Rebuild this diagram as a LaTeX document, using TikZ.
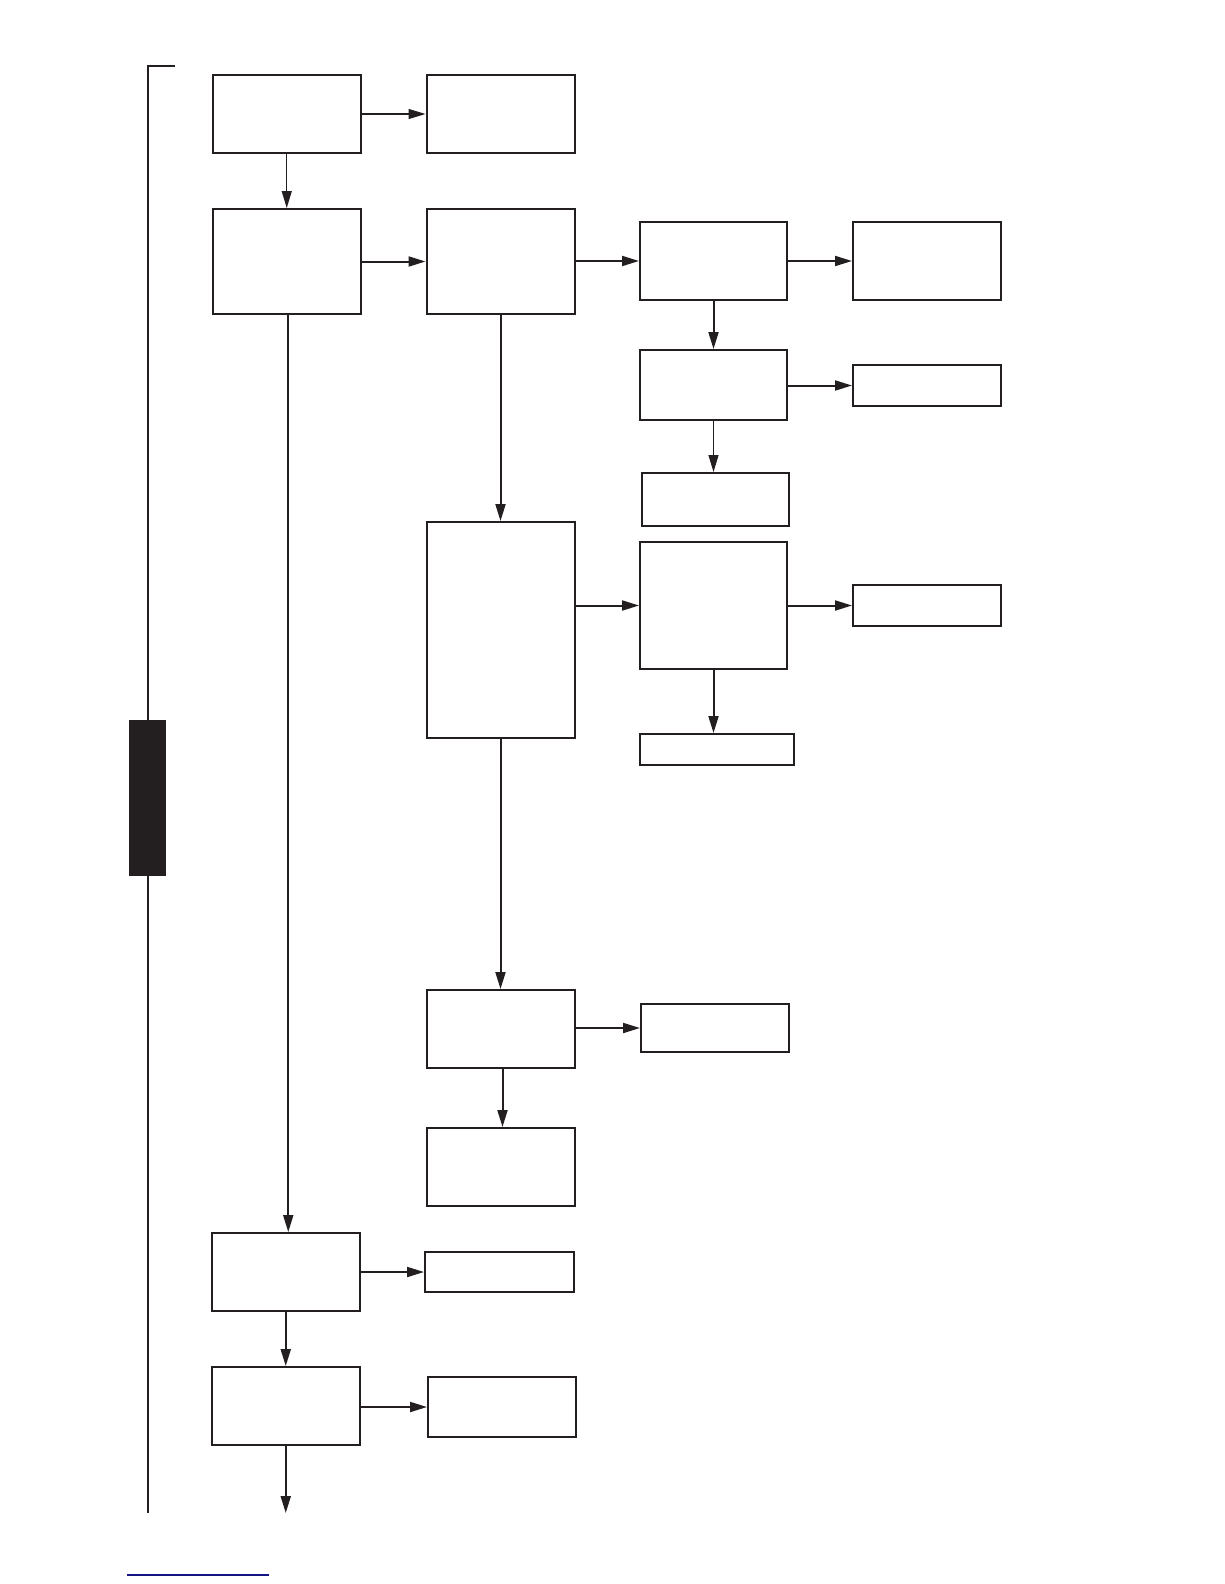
\documentclass[tikz,border=0pt]{standalone}
\usetikzlibrary{arrows.meta}
\definecolor{ink}{HTML}{231F20}
\definecolor{rulecol}{RGB}{20,20,130}
\begin{document}
\begin{tikzpicture}[x=1pt,y=-1pt,
  box/.style={draw=ink, line width=2pt, inner sep=0pt, minimum width=148pt},
  conn/.style={draw=ink, line width=2pt, -{Triangle[length=17pt,width=10pt]}},
  thinconn/.style={draw=ink, line width=1.2pt, -{Triangle[length=17pt,width=10pt]}}]
\useasboundingbox (0,0) rectangle (1224,1584);
% side bracket
\coordinate (brtop) at (175,66);
\coordinate (brcorner) at (148,66);
\coordinate (brbot) at (148,1513);
\draw[ink, line width=2pt] (brtop) -- (brcorner) -- (brbot);
\fill[ink] (129.3,720) rectangle (165.7,875.7);
% boxes
\node[box, minimum height=78pt] (A) at (286.75,114) {};
\node[box, minimum height=78pt] (B) at (500.5,114) {};
\node[box, minimum height=105pt] (C) at (286.75,261.5) {};
\node[box, minimum height=105pt] (D) at (500.5,261.5) {};
\node[box, minimum width=147pt, minimum height=78pt] (E) at (713.5,261) {};
\node[box, minimum height=78pt] (E2) at (927,261) {};
\node[box, minimum width=147pt, minimum height=70pt] (F) at (713.5,385) {};
\node[box, minimum height=41pt] (F2) at (927,385.5) {};
\node[box, minimum width=147pt, minimum height=53pt] (F3) at (715.5,499.5) {};
\node[box, minimum height=216pt] (Big) at (500.5,630) {};
\node[box, minimum width=147pt, minimum height=127pt] (G) at (713.5,605.5) {};
\node[box, minimum height=41pt] (G2) at (927,605.5) {};
\node[box, minimum width=154pt, minimum height=31pt] (G3) at (717,749.5) {};
\node[box, minimum height=78pt] (H) at (500.5,1029) {};
\node[box, minimum height=48pt] (H2) at (715,1028) {};
\node[box, minimum height=78pt] (I) at (500.5,1167) {};
\node[box, minimum width=147.5pt, minimum height=78pt] (K) at (285.75,1272) {};
\node[box, minimum width=148.5pt, minimum height=40pt] (J) at (499.25,1272) {};
\node[box, minimum width=147.5pt, minimum height=78pt] (M) at (285.75,1406) {};
\node[box, minimum height=60pt] (L) at (502,1407) {};
\coordinate (Mout) at (285.75,1513);
% connectors
\draw[thinconn] (A.east) -- (B.west);
\draw[thinconn] (A.south) -- (C.north);
\draw[conn] (C.east) -- (D.west);
\draw[conn] (D.east |- E.west) -- (E.west);
\draw[conn] (E.east) -- (E2.west);
\draw[conn] (E.south) -- (F.north);
\draw[conn] (F.east |- F2.west) -- (F2.west);
\draw[thinconn] (F.south) -- (F.south |- F3.north);
\draw[conn] (C.south) ++(1.5,0) coordinate (Cs) -- (Cs |- K.north);
\draw[conn] (D.south) -- (Big.north);
\draw[conn] (Big.east |- G.west) -- (G.west);
\draw[conn] (G.east) -- (G2.west);
\draw[conn] (G.south) -- (G.south |- G3.north);
\draw[conn] (Big.south) -- (H.north);
\draw[conn] (H.east |- H2.west) -- (H2.west);
\draw[conn] (H.south) ++(2,0) coordinate (Hs) -- (Hs |- I.north);
\draw[conn] (K.east) -- (J.west);
\draw[conn] (K.south) -- (M.north);
\draw[conn] (M.east |- L.west) -- (L.west);
\draw[conn] (M.south) -- (Mout);
% footer rule
\draw[rulecol, line width=1.5pt] (127,1575) -- (269,1575);
\end{tikzpicture}
\end{document}
